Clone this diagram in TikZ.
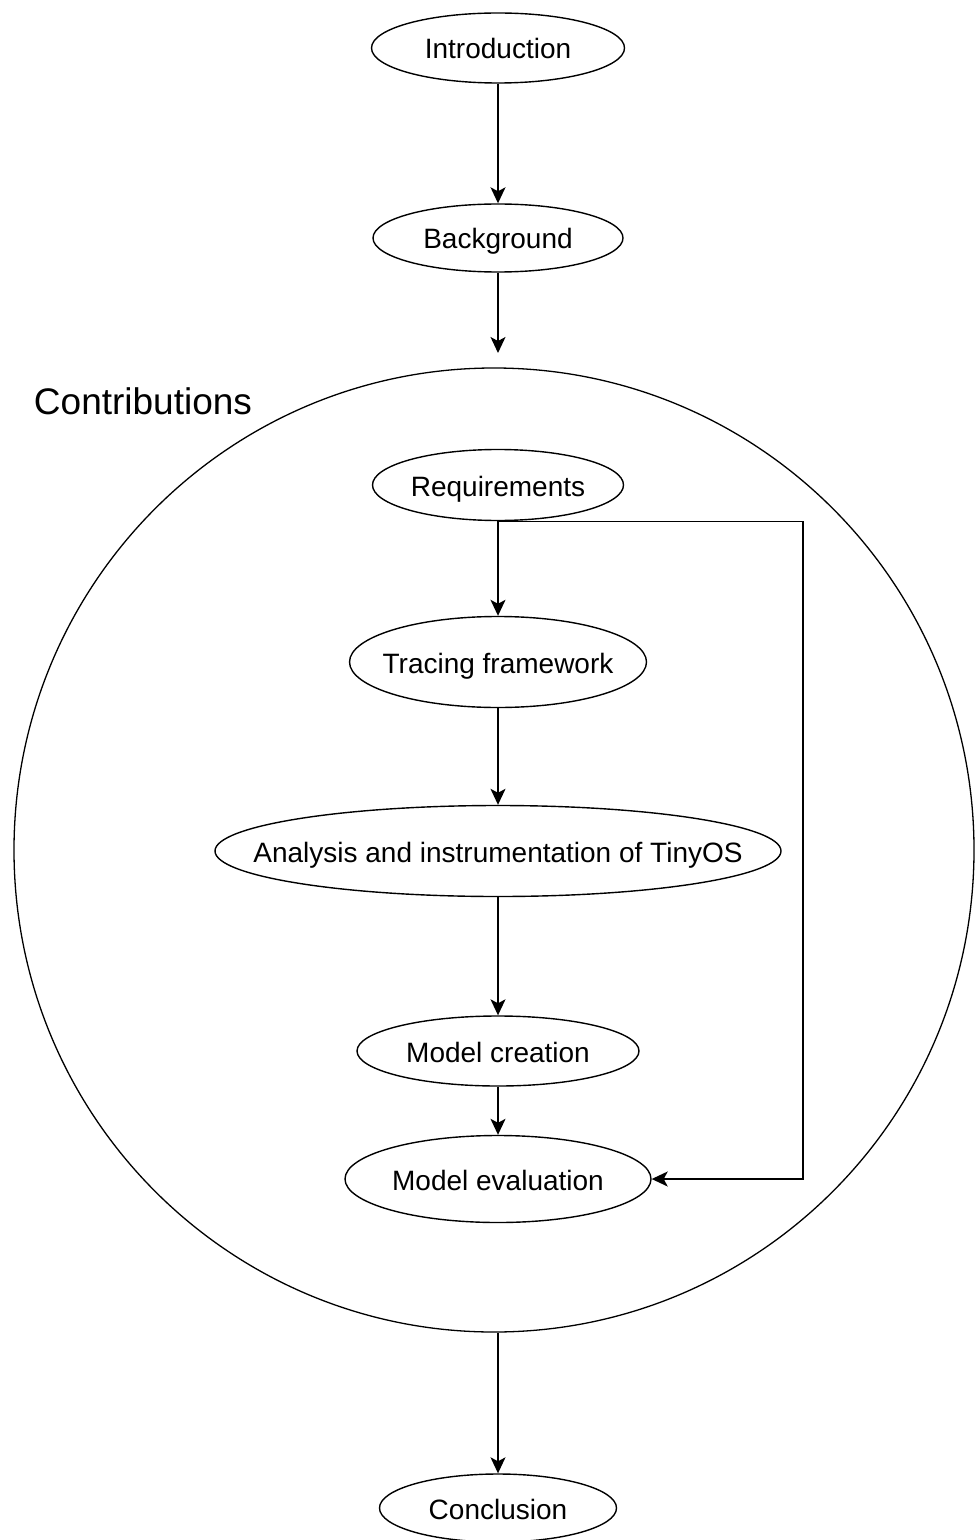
\documentclass[tikz,border=0pt]{standalone}
\usepackage{fontspec}
\setmainfont{Liberation Sans}
\usetikzlibrary{shapes.geometric,arrows.meta}
% text that does not widen its ellipse: the size comes from minimum width/height
\newcommand\ovtext[1]{\makebox[0pt]{#1}}
\begin{document}
\begin{tikzpicture}[x=0.5pt,y=-0.5pt,
  oval/.style={ellipse,draw,line width=0.7pt,inner sep=0pt,
    font=\fontsize{14}{16}\selectfont,text height=11pt,text depth=0pt},
  flow/.style={-{Stealth[length=8pt,width=7.5pt,inset=2pt]},line width=0.7pt}]
\useasboundingbox (0,0) rectangle (974,1540);

% the chapter ring
\node[ellipse,draw,line width=0.65pt,inner sep=0pt,minimum width=480pt,minimum height=482pt]
  (contrib) at (494,850) {};
\node[inner sep=0pt,font=\fontsize{18.5}{22}\selectfont] (ctitle) at (143,401) {Contributions};

% chapters
\node[oval,minimum width=126.5pt,minimum height=35pt] (intro) at (498,48) {\ovtext{Introduction}};
\node[oval,minimum width=125pt,minimum height=34pt] (bg) at (498,238) {\ovtext{Background}};
\node[oval,minimum width=125.5pt,minimum height=35.5pt] (req) at (498,485) {\ovtext{Requirements}};
\node[oval,minimum width=148.5pt,minimum height=45.5pt] (trace) at (498,662) {\ovtext{Tracing framework}};
\node[oval,minimum width=283pt,minimum height=45.5pt] (anal) at (498,851) {\ovtext{Analysis and instrumentation of TinyOS}};
\node[oval,minimum width=141pt,minimum height=35pt] (mcreate) at (498,1051) {\ovtext{Model creation}};
\node[oval,minimum width=153pt,minimum height=43.5pt] (meval) at (498,1179) {\ovtext{Model evaluation}};
\node[oval,minimum width=118.5pt,minimum height=34pt] (concl) at (498,1508) {\ovtext{Conclusion}};

% connectors
\coordinate (cin) at (498,353);
\coordinate (cout) at (498,1333);
\coordinate (fb) at (803,520);
\draw[flow] (intro) -- (bg);
\draw[flow] (bg) -- (cin);
\draw[flow] (req) -- (trace);
\draw[flow] (trace) -- (anal);
\draw[flow] (anal) -- (mcreate);
\draw[flow] (mcreate) -- (meval);
\draw[flow] (cout) -- (concl);
\draw[flow] (req.south) -- (req.south -| fb) -- (fb |- meval.east) -- (meval.east);
\end{tikzpicture}
\end{document}
